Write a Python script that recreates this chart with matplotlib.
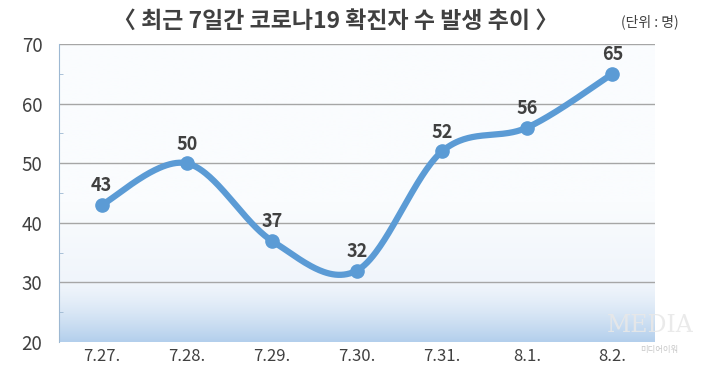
import matplotlib as mpl
mpl.use('Agg')
import matplotlib.pyplot as plt
import numpy as np

plt.rcParams['font.family'] = ['Noto Sans CJK KR', 'DejaVu Sans']

# data
dates = ['7.27.', '7.28.', '7.29.', '7.30.', '7.31.', '8.1.', '8.2.']
cases = [43, 50, 37, 32, 52, 56, 65]

title = '〈 최근 7일간 코로나19 확진자 수 발생 추이 〉'
unit = '(단위 : 명)'

line_color = '#5b9bd5'
text_color = '#404040'

fig = plt.figure(figsize=(7.01, 3.70), dpi=100)
ax = fig.add_axes([0.0842, 0.0757, 0.850, 0.805])

# background gradient (pale on top, light blue at the bottom)
ys = np.linspace(20, 70, 300)
top_rgb = np.array(mpl.colors.to_rgb('#fafcfe'))
mid_rgb = np.array(mpl.colors.to_rgb('#f0f5fb'))
bot_rgb = np.array(mpl.colors.to_rgb('#b3cfec'))
grad = np.zeros((len(ys), 1, 3))
for k, yv in enumerate(ys):
    if yv >= 30:
        t = (yv - 30) / 40
        grad[k, 0] = mid_rgb + (top_rgb - mid_rgb) * min(1, t * 3)
    else:
        t = (30 - yv) / 10
        grad[k, 0] = mid_rgb + (bot_rgb - mid_rgb) * t ** 1.4
ax.imshow(grad, extent=[-0.5, len(dates) - 0.5, 20, 70], origin='lower',
          aspect='auto', zorder=0, interpolation='bilinear')

# smoothed line (excel style bezier through the points)
x = np.arange(len(cases), dtype=float)
y = np.array(cases, dtype=float)
px = np.concatenate([[x[0]], x, [x[-1]]])
py = np.concatenate([[y[0]], y, [y[-1]]])
sx, sy = [], []
tt = np.linspace(0, 1, 60)
for i in range(len(x) - 1):
    p0 = np.array([px[i + 1], py[i + 1]])
    p3 = np.array([px[i + 2], py[i + 2]])
    p1 = p0 + (p3 - np.array([px[i], py[i]])) / 6
    p2 = p3 - (np.array([px[i + 3], py[i + 3]]) - p0) / 6
    for t in tt:
        b = (1 - t) ** 3 * p0 + 3 * (1 - t) ** 2 * t * p1 + 3 * (1 - t) * t ** 2 * p2 + t ** 3 * p3
        sx.append(b[0])
        sy.append(b[1])
ax.plot(sx, sy, color=line_color, linewidth=4.5, solid_capstyle='round', zorder=3)
ax.plot(x, y, 'o', color=line_color, markersize=9.5, zorder=4)

for xi, yi in zip(x, cases):
    ax.annotate(str(yi), (xi, yi), xytext=(0, 7), textcoords='offset points',
                ha='center', va='bottom', fontsize=13, fontweight='bold',
                color=text_color, zorder=5)

ax.set_xlim(-0.5, len(dates) - 0.5)
ax.set_ylim(20, 70)
ax.set_yticks(range(20, 71, 10))
ax.set_yticks(range(25, 70, 10), minor=True)
ax.set_xticks(x)
ax.set_xticklabels(dates)
for yv in range(30, 71, 10):
    ax.axhline(yv, color='#a6a6a6', linewidth=1, zorder=1)

for s in ['top', 'right', 'bottom']:
    ax.spines[s].set_visible(False)
ax.spines['left'].set_color('#9db8d2')
ax.tick_params(axis='y', which='major', length=0, labelsize=13.5, labelcolor=text_color, pad=12)
ax.tick_params(axis='y', which='minor', direction='in', length=3, color='#9db8d2')
ax.tick_params(axis='x', length=0, labelsize=12, labelcolor=text_color, pad=4)

# watermark
fig.text(0.928, 0.12, 'MEDIA', fontsize=17, color='#e8e8e8', alpha=0.9,
         family='DejaVu Serif', ha='center', va='center', zorder=10)
fig.text(0.94, 0.055, '미디어이워', fontsize=6, color='#c8c8c8',
         ha='center', va='center', zorder=10)

fig.text(0.478, 0.943, title, fontsize=16.5, fontweight='bold', color=text_color,
         ha='center', va='center')
fig.text(0.927, 0.94, unit, fontsize=10, color=text_color, ha='center', va='center')

fig.savefig('out.png', dpi=100)
